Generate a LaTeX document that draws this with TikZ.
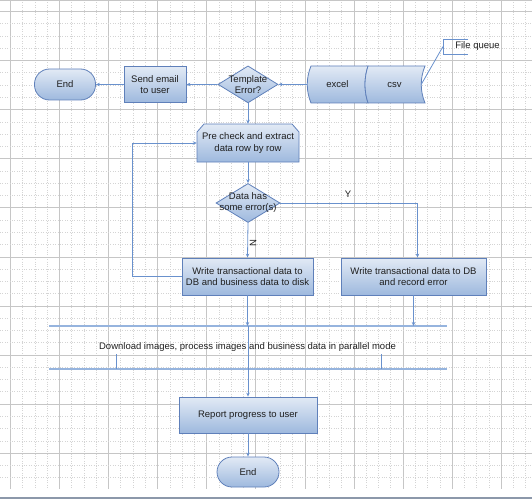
\documentclass[tikz,border=0pt]{standalone}
\usepackage{fontspec}
\setmainfont{Liberation Sans}
\usetikzlibrary{shapes.geometric,arrows.meta,calc}
\definecolor{boxtop}{RGB}{226,234,245}
\definecolor{boxbot}{RGB}{158,185,222}
\definecolor{boxdraw}{RGB}{95,128,186}
\definecolor{linec}{RGB}{105,145,205}
\definecolor{parc}{RGB}{150,180,222}
\definecolor{gridc}{RGB}{212,212,212}
\definecolor{gridm}{RGB}{198,198,198}
\definecolor{txt}{RGB}{30,30,30}
\begin{document}
\begin{tikzpicture}[x=1pt,y=-1pt,
  every node/.style={font=\fontsize{9.5}{11.2}\selectfont, text=txt},
  fillbox/.style={draw=boxdraw, line width=0.8pt, top color=boxtop, bottom color=boxbot, align=center, inner sep=0pt},
  procbox/.style={fillbox, rectangle},
  stadium/.style={fillbox, rectangle, rounded corners=15pt},
  decision/.style={fillbox, diamond},
  conn/.style={draw=linec, line width=0.8pt, -{Stealth[length=4pt,width=3.5pt]}},
  plainline/.style={draw=linec, line width=0.8pt},
  parline/.style={draw=parc, line width=1.4pt},
  minorgrid/.style={draw=gridc, line width=0.5pt, dash pattern=on 1pt off 1.4pt},
  majorgrid/.style={draw=gridm, line width=0.5pt}
]
\useasboundingbox (0,0) rectangle (532,500);
% background grid
\foreach \k in {0,...,42}{
  \pgfmathsetmacro{\gx}{10.3+12.27*\k}
  \pgfmathtruncatemacro{\gm}{mod(\k,4)}
  \ifnum\gm=0
    \draw[majorgrid] (\gx,0) -- (\gx,489);
  \else
    \draw[minorgrid] (\gx,0) -- (\gx,489);
  \fi
}
\foreach \k in {-6,...,32}{
  \pgfmathsetmacro{\gy}{404-12.27*\k}
  \pgfmathtruncatemacro{\gm}{mod(abs(\k),4)}
  \ifnum\gm=0
    \draw[majorgrid] (0,\gy) -- (532,\gy);
  \else
    \draw[minorgrid] (0,\gy) -- (532,\gy);
  \fi
}
\draw[draw=gridm, line width=1.2pt] (0,0.6) -- (532,0.6);
\fill[white] (0,489.5) rectangle (532,500);
\draw[draw={rgb,255:red,140;green,152;blue,170}, line width=1.6pt] (0,498) -- (532,498);

% store shape (excel / csv)
\path[draw=boxdraw, line width=0.8pt, top color=boxtop, bottom color=boxbot]
  (311,66) -- (368,66) .. controls (364,78) and (364,91) .. (368,103) -- (311,103) .. controls (306,91) and (306,78) .. (311,66) -- cycle;
\path[draw=boxdraw, line width=0.8pt, top color=boxtop, bottom color=boxbot]
  (368,66) -- (425,66) .. controls (420,78) and (420,91) .. (425,103) -- (368,103) .. controls (364,91) and (364,78) .. (368,66) -- cycle;
\node[minimum width=61pt, minimum height=37pt, inner sep=0pt] (excel) at (337.5,84.5) {excel};
\node[minimum width=53pt, minimum height=37pt, inner sep=0pt] (csv) at (394.5,84.5) {csv};

% loop-limit shape (pre check)
\path[draw=boxdraw, line width=0.8pt, top color=boxtop, bottom color=boxbot]
  (204,124) -- (292,124) -- (299,132) -- (299,162) -- (197,162) -- (197,132) -- cycle;
\node[rectangle, align=center, inner sep=0pt, minimum width=102pt, minimum height=38pt] (pre) at (248,143) {Pre check and extract\\data row by row};

% nodes
\node[stadium, minimum width=61pt, minimum height=31pt] (end1) at (65,84.5) {End};
\node[procbox, minimum width=62pt, minimum height=36pt] (send) at (155,84.5) {Send email\\to user};
\node[decision, minimum width=60pt, minimum height=37pt, label={[align=center, font=\fontsize{9.5}{11}\selectfont]center:Template\\Error?}] (tmpl) at (248,84.4) {};
\node[decision, minimum width=64pt, minimum height=39pt, label={[align=center, font=\fontsize{9.5}{11}\selectfont]center:Data has\\some error(s)}] (data) at (248,203) {};
\node[procbox, minimum width=131pt, minimum height=37pt] (wl) at (247.5,276.5) {Write transactional data to\\DB and business data to disk};
\node[procbox, minimum width=145pt, minimum height=37pt] (wr) at (413.5,276.5) {Write transactional data to DB\\and record error};
\node[procbox, minimum width=138pt, minimum height=36pt] (report) at (248,415) {Report progress to user};
\node[stadium, minimum width=62pt, minimum height=30pt] (end2) at (248,472) {End};
\node (par) at (247.5,347) {Download images, process images and business data in parallel mode};
\node (fq) at (477.5,46.5) {File queue};
\node (ylab) at (348,194) {Y};
\node[rotate=90] (nlab) at (253,243) {N};

% file queue annotation
\coordinate (fqb) at (443,46.5);
\draw[plainline] (468,39) -- (443,39) -- (443,54) -- (468,54);
\draw[plainline] (fqb) -- (csv.east);

% parallel bars
\coordinate (p1w) at (49,326);
\coordinate (p1e) at (447,326);
\coordinate (p2w) at (49,369);
\coordinate (p2e) at (447,369);
\coordinate (t1) at (116,354);
\coordinate (t2) at (381,354);
\draw[parline] (p1w) -- (p1e);
\draw[parline] (p2w) -- (p2e);
\draw[plainline] (t1) -- (t1 |- p2w);
\draw[plainline] (t2) -- (t2 |- p2w);

% connectors
\draw[conn] (excel.west) -- (tmpl.east);
\draw[conn] (tmpl.west) -- (send.east);
\draw[conn] (send.west) -- (end1.east);
\draw[conn] (tmpl.south) -- (pre.north);
\draw[conn] (pre.south) -- (data.north);
\draw[conn] (data.south) -- (wl.north);
\draw[conn] (data.east) -| ([xshift=4pt]wr.north);
\draw[conn] (wl.west) -- ++(-49,0) |- (pre.west);
\draw[conn] (wl.south) -- (wl.south |- p1w);
\draw[conn] (wr.south) -- (wr.south |- p1w);
\draw[conn] (report.north |- p1w) -- (report.north);
\draw[conn] (report.south) -- (end2.north);
\end{tikzpicture}
\end{document}
